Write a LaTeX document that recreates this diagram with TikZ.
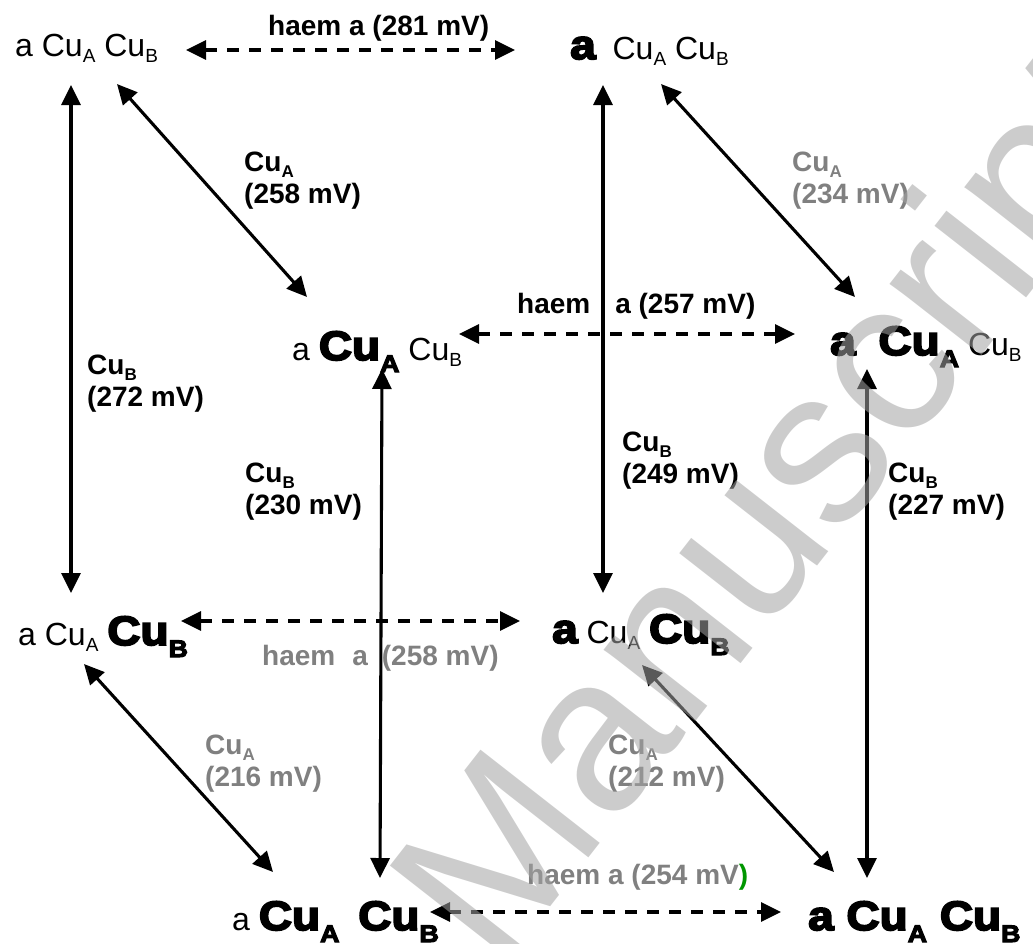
\documentclass[tikz,border=0pt]{standalone}
\usepackage{fontspec}
\setmainfont{Liberation Sans}
\newfontface\heavyfont{Liberation Sans Bold}[FakeBold=4.5,FakeStretch=1.12]
\usetikzlibrary{arrows.meta,calc}
\definecolor{labelgrey}{RGB}{128,128,128}
\definecolor{bracketgreen}{RGB}{0,150,0}
\definecolor{markgrey}{gray}{0.64}

% heavy (oxidised) centres and subscripts
\newcommand\heavytext[1]{{\heavyfont\fontsize{41}{42}\selectfont #1}}
\newcommand\subheavy[1]{\raisebox{-12pt}{\heavyfont\fontsize{24}{24}\selectfont #1}}
\newcommand\subreg[1]{\raisebox{-6pt}{\fontsize{19}{19}\selectfont #1}}
\newcommand\sublabel[1]{\raisebox{-6pt}{\fontsize{17}{17}\selectfont #1}}

\tikzset{
  species/.style={anchor=base west, inner sep=0pt, font=\fontsize{32}{36}\selectfont},
  potential/.style={anchor=north west, inner sep=0pt, align=left, font=\bfseries\fontsize{28}{32}\selectfont},
  haemlabel/.style={anchor=base west, inner sep=0pt, font=\bfseries\fontsize{28}{32}\selectfont},
  faded/.style={text=labelgrey},
  couple/.style={line width=3.1pt, {Triangle[length=20pt,width=19pt]}-{Triangle[length=20pt,width=19pt]}},
  haemcouple/.style={couple, dash pattern=on 12pt off 10pt},
}

\begin{document}
\begin{tikzpicture}[x=1pt,y=-1pt]
\useasboundingbox (0,0) rectangle (1033,943);

% redox states
\node[species] (TL) at (15,56)  {a Cu\subreg{A} Cu\subreg{B}};
\node[species] (TR) at (570,59) {\heavytext{a}\hspace{8pt} Cu\subreg{A} Cu\subreg{B}};
\node[species] (ML) at (292,360) {a \heavytext{Cu\subheavy{A}} Cu\subreg{B}};
\node[species] (MR) at (830,355) {\heavytext{a\hspace{10pt} Cu\subheavy{A}} Cu\subreg{B}};
\node[species] (LL) at (18,645) {a Cu\subreg{A} \heavytext{Cu\subheavy{B}}};
\node[species] (LR) at (552,643) {\heavytext{a} Cu\subreg{A} \heavytext{Cu\subheavy{B}}};
\node[species] (BL) at (232,930) {a \heavytext{Cu\subheavy{A}\hspace{6pt} Cu\subheavy{B}}};
\node[species] (BR) at (808,930) {\heavytext{a Cu\subheavy{A} Cu\subheavy{B}}};

% haem a couples
\draw[haemcouple] ($(TL.base west)+(171,-6)$) -- ($(TR.base west)+(-55,-9)$);
\draw[haemcouple] ($(ML.base west)+(167,-26)$) -- ($(MR.base west)+(-35,-21)$);
\draw[haemcouple] ($(LL.base west)+(163,-24)$) -- ($(LR.base west)+(-32,-22)$);
\draw[haemcouple] ($(BL.base west)+(198,-18)$) -- ($(BR.base west)+(-27,-18)$);

% CuB couples
\draw[couple] ($(TL.base west)+(56,29)$) -- ($(LL.base west)+(53,-52)$);
\draw[couple] ($(TR.base west)+(33,26)$) -- ($(LR.base west)+(51,-50)$);
\draw[couple] ($(ML.base west)+(90,9)$) -- ($(BL.base west)+(148,-52)$);
\draw[couple] ($(MR.base west)+(37,14)$) -- ($(BR.base west)+(59,-52)$);

% CuA couples
\draw[couple] ($(TL.base west)+(102,28)$) -- ($(ML.base west)+(15,-63)$);
\draw[couple] ($(TR.base west)+(91,25)$) -- ($(MR.base west)+(25,-58)$);
\draw[couple] ($(LL.base west)+(66,19)$) -- ($(BL.base west)+(41,-58)$);
\draw[couple] ($(LR.base west)+(90,22)$) -- ($(BR.base west)+(26,-58)$);

% midpoint potentials
\node[haemlabel] (h1) at (268,35) {haem a (281 mV)};
\node[haemlabel] (h2) at (517,313) {haem\hspace{25pt}a (257 mV)};
\node[haemlabel, faded] (h3) at (262,665) {haem\hspace{17pt}a\hspace{14pt}(258 mV)};
\node[haemlabel, faded] (h4) at (527,884) {haem a (254 mV\textcolor{bracketgreen}{)}};

\node[potential] (a1) at (244,152) {Cu\sublabel{A}\\(258 mV)};
\node[potential, faded] (a2) at (792,152) {Cu\sublabel{A}\\(234 mV)};
\node[potential, faded] (a3) at (205,735) {Cu\sublabel{A}\\(216 mV)};
\node[potential, faded] (a4) at (608,735) {Cu\sublabel{A}\\(212 mV)};

\node[potential] (b1) at (87,355) {Cu\sublabel{B}\\(272 mV)};
\node[potential] (b2) at (245,463) {Cu\sublabel{B}\\(230 mV)};
\node[potential] (b3) at (622,432) {Cu\sublabel{B}\\(249 mV)};
\node[potential] (b4) at (888,463) {Cu\sublabel{B}\\(227 mV)};

% watermark
\node[rotate=52, text=markgrey, text opacity=0.55, inner sep=0pt,
      font=\fontsize{220}{220}\selectfont] (mark) at (785,515) {Manuscript};
\end{tikzpicture}
\end{document}
